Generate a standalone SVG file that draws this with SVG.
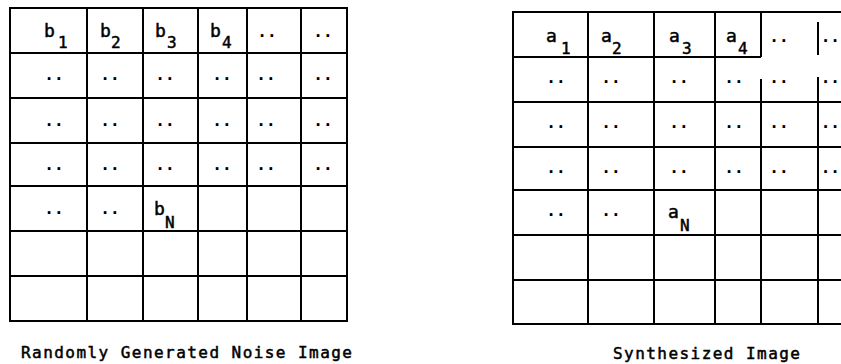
<svg xmlns="http://www.w3.org/2000/svg" width="841" height="364" viewBox="0 0 841 364">
<style>
.g{stroke:#000;stroke-width:2;fill:none;stroke-linecap:square}
.t{font-family:"DejaVu Sans Mono","Liberation Mono",monospace;font-size:18px;fill:#000;stroke:#000;stroke-width:0.5}
.s{font-family:"DejaVu Sans Mono","Liberation Mono",monospace;font-size:16px;fill:#000;stroke:#000;stroke-width:0.5}
.d{font-family:"DejaVu Sans Mono","Liberation Mono",monospace;font-size:16px;fill:#000;font-weight:bold}
.c{font-family:"DejaVu Sans Mono","Liberation Mono",monospace;font-size:16px;fill:#000;stroke:#000;stroke-width:0.5}
</style>
<rect width="841" height="364" fill="#fff"/>

<g id="noise-image">
  <g id="noise-grid" class="g">
    <rect x="10" y="8" width="337" height="313"/>
    <path d="M87 8V321M143 8V321M198 8V321M247 8V321M301 8V321"/>
    <path d="M10 53H347M10 98H347M10 143H347M10 186H347M10 231H347M10 276H347"/>
  </g>
  <g id="noise-labels">
    <text class="t" x="44" y="37">b</text><text class="s" x="58" y="48">1</text>
    <text class="t" x="100" y="37">b</text><text class="s" x="111" y="48">2</text>
    <text class="t" x="155" y="37">b</text><text class="s" x="167" y="48">3</text>
    <text class="t" x="210" y="37">b</text><text class="s" x="222" y="48">4</text>
    <text class="t" x="154" y="215">b</text><text class="s" x="165" y="228">N</text>
  </g>
  <g id="noise-dots" class="d" text-anchor="middle">
    <text x="267" y="37">..</text><text x="323" y="37">..</text>
    <text x="54" y="80">..</text><text x="110" y="80">..</text><text x="165" y="80">..</text><text x="222" y="80">..</text><text x="266" y="80">..</text><text x="323" y="80">..</text>
    <text x="54" y="126">..</text><text x="110" y="126">..</text><text x="165" y="126">..</text><text x="222" y="126">..</text><text x="266" y="126">..</text><text x="323" y="126">..</text>
    <text x="54" y="170">..</text><text x="110" y="170">..</text><text x="165" y="170">..</text><text x="222" y="170">..</text><text x="266" y="170">..</text><text x="323" y="170">..</text>
    <text x="54" y="214">..</text><text x="110" y="214">..</text>
  </g>
  <text id="noise-caption" class="c" x="21" y="358" textLength="331" lengthAdjust="spacing">Randomly Generated Noise Image</text>
</g>

<g id="synthesized-image">
  <g id="synth-grid" class="g">
    <path d="M513 12H841M513 12V324H841"/>
    <path d="M588 12V324M654 12V324M715 12V324"/>
    <path d="M761 12V56M761 80V324M818 23V54M818 78V324"/>
    <path d="M513 57H760M513 102H841M513 147H841M513 190H841M513 235H841M513 280H841"/>
  </g>
  <g id="synth-labels">
    <text class="t" x="546" y="42">a</text><text class="s" x="561" y="54">1</text>
    <text class="t" x="601" y="42">a</text><text class="s" x="612" y="54">2</text>
    <text class="t" x="669" y="42">a</text><text class="s" x="682" y="54">3</text>
    <text class="t" x="726" y="42">a</text><text class="s" x="738" y="54">4</text>
    <text class="t" x="668" y="218">a</text><text class="s" x="680" y="231">N</text>
  </g>
  <g id="synth-dots" class="d" text-anchor="middle">
    <text x="779" y="42">..</text><text x="840" y="42" text-anchor="end">..</text>
    <text x="556" y="83">..</text><text x="611" y="83">..</text><text x="679" y="83">..</text><text x="734" y="83">..</text><text x="779" y="83">..</text><text x="840" y="83" text-anchor="end">..</text>
    <text x="556" y="128">..</text><text x="611" y="128">..</text><text x="679" y="128">..</text><text x="734" y="128">..</text><text x="779" y="128">..</text><text x="840" y="128" text-anchor="end">..</text>
    <text x="556" y="173">..</text><text x="611" y="173">..</text><text x="679" y="173">..</text><text x="734" y="173">..</text><text x="779" y="173">..</text><text x="840" y="173" text-anchor="end">..</text>
    <text x="556" y="216">..</text><text x="611" y="216">..</text>
  </g>
  <text id="synth-caption" class="c" x="613" y="359" textLength="187" lengthAdjust="spacing">Synthesized Image</text>
</g>
</svg>
